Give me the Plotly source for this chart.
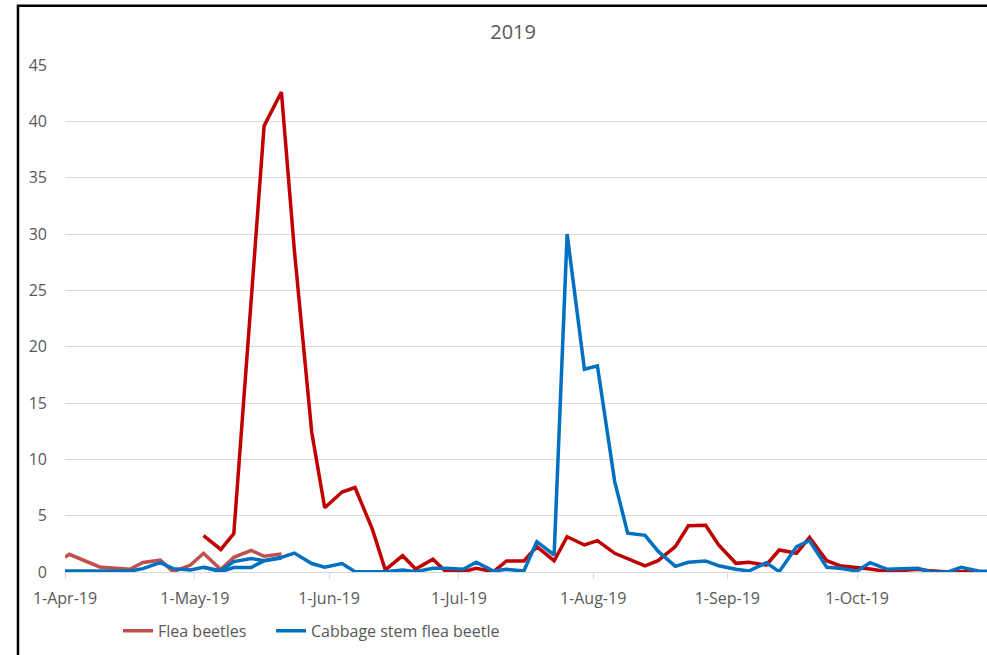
import plotly.graph_objects as go

# Trap catches, spring block (Apr - May 21)
dates_spring = ["2019-04-01", "2019-04-02", "2019-04-09", "2019-04-16", "2019-04-19",
                "2019-04-23", "2019-04-26", "2019-04-30", "2019-05-03", "2019-05-07",
                "2019-05-10", "2019-05-14", "2019-05-17", "2019-05-21"]
flea_spring = [1.3, 1.57, 0.45, 0.25, 0.85, 1.05, 0.03, 0.62, 1.66, 0.22,
               1.3, 1.92, 1.4, 1.6]
csfb_spring = [0.09, 0.09, 0.09, 0.09, 0.3, 0.83, 0.3, 0.18, 0.42, 0.12,
               0.92, 1.2, 1.0, 1.25]

# Trap catches, main season (twice weekly, Tue / Fri)
dates_season = ["2019-05-03", "2019-05-07", "2019-05-10", "2019-05-14", "2019-05-17",
                "2019-05-21", "2019-05-24", "2019-05-28", "2019-05-31", "2019-06-04",
                "2019-06-07", "2019-06-11", "2019-06-14", "2019-06-18", "2019-06-21",
                "2019-06-25", "2019-06-28", "2019-07-02", "2019-07-05", "2019-07-09",
                "2019-07-12", "2019-07-16", "2019-07-19", "2019-07-23", "2019-07-26",
                "2019-07-30", "2019-08-02", "2019-08-06", "2019-08-09", "2019-08-13",
                "2019-08-16", "2019-08-20", "2019-08-23", "2019-08-27", "2019-08-30",
                "2019-09-03", "2019-09-06", "2019-09-10", "2019-09-13", "2019-09-17",
                "2019-09-20", "2019-09-24", "2019-09-27", "2019-10-01", "2019-10-04",
                "2019-10-08", "2019-10-11", "2019-10-15", "2019-10-18", "2019-10-22",
                "2019-10-25", "2019-10-29", "2019-11-01"]
flea_season = [3.22, 2.0, 3.4, 24.6, 39.6,
               42.6, 28.5, 12.4, 5.7, 7.1,
               7.5, 3.8, 0.18, 1.45, 0.27,
               1.13, 0.03, 0.03, 0.33, 0.03,
               0.98, 0.98, 2.25, 1.0, 3.13,
               2.4, 2.78, 1.66, 1.15, 0.55,
               1.0, 2.25, 4.1, 4.15, 2.4,
               0.77, 0.86, 0.62, 1.95, 1.66,
               3.08, 1.0, 0.56, 0.4, 0.27,
               0.03, 0.1, 0.24, 0.1, 0.0,
               0.03, 0.0, 0.0]
csfb_season = [0.42, 0.03, 0.4, 0.4, 1.0,
               1.3, 1.68, 0.75, 0.42, 0.75,
               0.03, 0.03, 0.03, 0.18, 0.03,
               0.33, 0.33, 0.24, 0.86, 0.09,
               0.24, 0.09, 2.69, 1.51, 30.0,
               18.0, 18.3, 8.0, 3.45, 3.25,
               1.85, 0.5, 0.86, 0.98, 0.56,
               0.24, 0.09, 0.83, 0.03, 2.25,
               2.78, 0.42, 0.33, 0.09, 0.83,
               0.24, 0.28, 0.33, 0.03, 0.0,
               0.42, 0.09, 0.05]

month_ticks = ["2019-04-01", "2019-05-01", "2019-06-01", "2019-07-01",
               "2019-08-01", "2019-09-01", "2019-10-01"]
month_labels = ["1-Apr-19", "1-May-19", "1-Jun-19", "1-Jul-19",
                "1-Aug-19", "1-Sep-19", "1-Oct-19"]

FONT = "Open Sans"
GREY = "#595959"
LW = 3.5

fig = go.Figure()
fig.add_trace(go.Scatter(x=dates_spring, y=flea_spring, mode="lines", name="Flea beetles",
                         legend="legend",
                         line=dict(color="#C0504D", width=LW)))
fig.add_trace(go.Scatter(x=dates_season, y=flea_season, mode="lines", name="Flea beetles (season)",
                         showlegend=False, line=dict(color="#C00000", width=LW)))
fig.add_trace(go.Scatter(x=dates_spring, y=csfb_spring, mode="lines", name="Cabbage stem flea beetle",
                         legend="legend2",
                         line=dict(color="#0070C0", width=LW)))
fig.add_trace(go.Scatter(x=dates_season, y=csfb_season, mode="lines", name="CSFB (season)",
                         showlegend=False, line=dict(color="#0070C0", width=LW)))

# chart frame (left and top edges)
fig.add_shape(type="path", xref="paper", yref="paper",
              path="M -0.051,-0.3 L -0.051,1.117 L 1.2,1.117",
              line=dict(color="black", width=2.5))

legend_style = dict(orientation="h", xanchor="left", y=-0.116, yanchor="middle",
                    font=dict(family=FONT, size=16, color=GREY),
                    bgcolor="rgba(0,0,0,0)", itemwidth=30)

fig.update_layout(
    width=987, height=655,
    margin=dict(l=65, r=0, t=65, b=83),
    paper_bgcolor="white", plot_bgcolor="white",
    font=dict(family=FONT, color=GREY, size=16),
    title=dict(text="2019", x=0.486, xref="paper", xanchor="center",
               y=1 - 32 / 655, yanchor="middle",
               font=dict(family=FONT, size=20, color=GREY)),
    showlegend=True,
    legend=dict(x=0.0575, **legend_style),
    legend2=dict(x=0.2234, **legend_style),
    xaxis=dict(type="date", range=["2019-04-01", "2019-10-31"],
               tickvals=month_ticks, ticktext=month_labels,
               showgrid=False, zeroline=False,
               showline=True, linecolor="#D9D9D9", linewidth=1,
               ticks="outside", ticklen=6, tickcolor="#D9D9D9",
               ticklabelstandoff=6,
               tickfont=dict(family=FONT, size=16, color=GREY)),
    yaxis=dict(range=[0, 45], dtick=5, tick0=0,
               showgrid=True, gridcolor="#D9D9D9", gridwidth=1,
               zeroline=False, showline=False, ticks="",
               ticklabelstandoff=17,
               tickfont=dict(family=FONT, size=16, color=GREY)),
)

fig.write_html("out.html")
